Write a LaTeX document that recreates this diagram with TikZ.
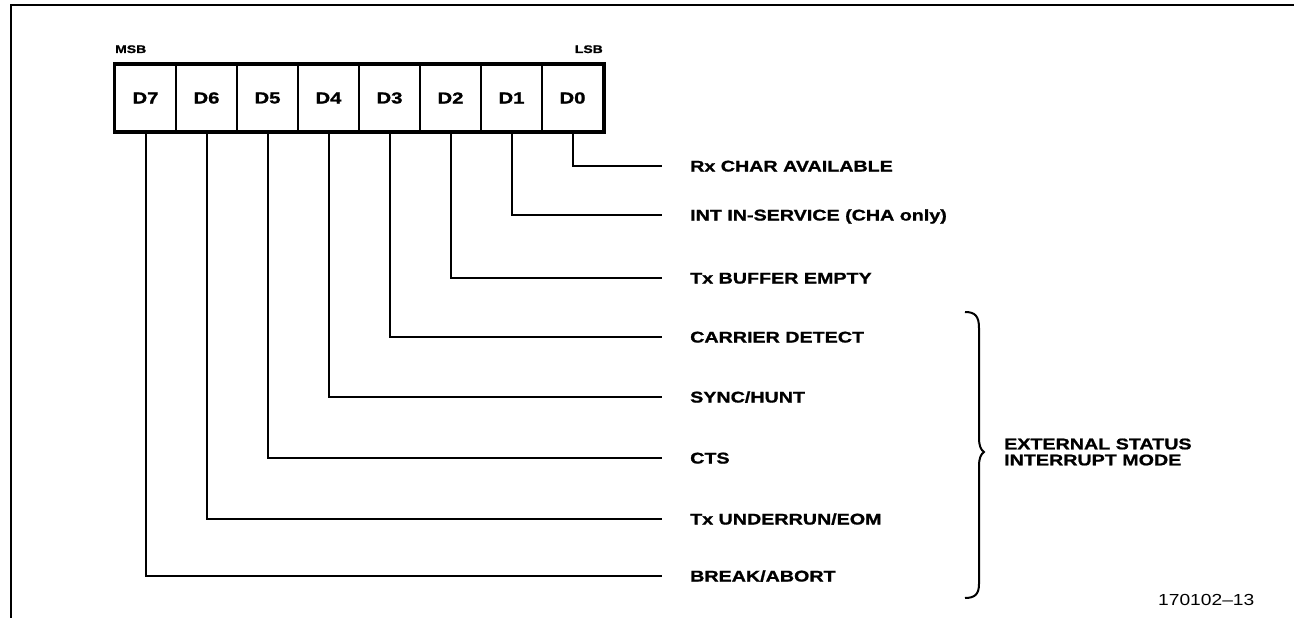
\documentclass[tikz,border=0pt]{standalone}
\usepackage{fontspec}
\setmainfont{Liberation Sans}
\newfontfamily\lblfont{Liberation Sans}[FakeStretch=1.27, BoldFeatures={FakeBold=1.2}]
\newfontfamily\numfont{Liberation Sans}[FakeStretch=1.2]
\begin{document}
\begin{tikzpicture}[x=1pt,y=-1pt,
  cell/.style={draw, line width=2pt, minimum width=61pt, minimum height=66pt, inner sep=0pt,
    font=\lblfont\fontsize{16}{16}\selectfont\bfseries},
  lbl/.style={anchor=base west, inner sep=0pt, font=\lblfont\fontsize{15.5}{16}\selectfont\bfseries},
  small/.style={inner sep=0pt, font=\lblfont\fontsize{11}{11}\selectfont\bfseries},
  wire/.style={line width=2pt},
  frame/.style={line width=1.8pt}]
\useasboundingbox (0,0) rectangle (1294,618);
% frame
\draw[frame] (11,618) -- (11,5) -- (1294,5);
% register cells
\foreach \k/\n in {0/7,1/6,2/5,3/4,4/3,5/2,6/1,7/0}{
  \node[cell] (d\n) at (145.5+61*\k, 98) {D\n};
}
\draw[line width=3pt] (d7.north west) rectangle (d0.south east);
\node[small, anchor=base west] (msb) at (115,53) {MSB};
\node[small, anchor=base east] (lsb) at (603,53) {LSB};
% wires and labels
\foreach \n/\yy/\txt in {0/166/{Rx CHAR AVAILABLE},
                         1/215/{INT IN-SERVICE (CHA only)},
                         2/278/{Tx BUFFER EMPTY},
                         3/337/{CARRIER DETECT},
                         4/397/{SYNC/HUNT},
                         5/458/{CTS},
                         6/519/{Tx UNDERRUN/EOM},
                         7/576/{BREAK/ABORT}}{
  \coordinate (e\n) at (662,\yy);
  \node[lbl] (l\n) at (690,\yy+5.5) {\txt};
  \draw[wire] (d\n.south) |- (e\n);
}
% brace
\draw[wire] (965,312) .. controls (975,312) and (979,316) .. (979,328) -- (979,438)
  .. controls (979,446) and (981,450) .. (984,452)
  .. controls (981,454) and (979,458) .. (979,466) -- (979,584)
  .. controls (979,594) and (975,598) .. (965,598);
\node[inner sep=0pt, anchor=west, align=left, font=\lblfont\fontsize{15.5}{16}\selectfont\bfseries]
  (ext) at (1004,452) {EXTERNAL STATUS\\INTERRUPT MODE};
\node[inner sep=0pt, anchor=base west, font=\numfont\fontsize{16}{16}\selectfont]
  (fig) at (1158,605) {170102–13};
\end{tikzpicture}
\end{document}
